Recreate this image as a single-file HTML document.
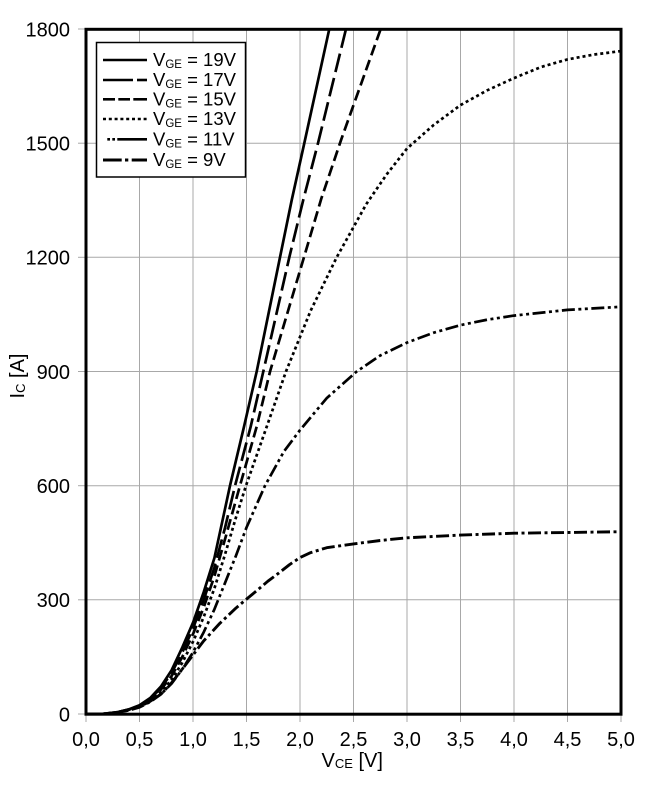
<!DOCTYPE html>
<html>
<head>
<meta charset="utf-8">
<style>
  html, body { margin:0; padding:0; background:#fff; }
  svg { display:block; }
  text { font-family: "Liberation Sans", Arial, sans-serif; fill:#000; }
</style>
</head>
<body>
<svg width="669" height="788" viewBox="0 0 669 788" xmlns="http://www.w3.org/2000/svg">
  <rect x="0" y="0" width="669" height="788" fill="#fff"/>
  <defs>
    <clipPath id="pc"><rect x="86" y="29" width="535" height="685"/></clipPath>
  </defs>

  <!-- grid -->
  <g stroke="#a8a8a8" stroke-width="1" fill="none">
    <line x1="139.5" y1="29" x2="139.5" y2="714"/>
    <line x1="193" y1="29" x2="193" y2="714"/>
    <line x1="246.5" y1="29" x2="246.5" y2="714"/>
    <line x1="300" y1="29" x2="300" y2="714"/>
    <line x1="353.5" y1="29" x2="353.5" y2="714"/>
    <line x1="407" y1="29" x2="407" y2="714"/>
    <line x1="460.5" y1="29" x2="460.5" y2="714"/>
    <line x1="514" y1="29" x2="514" y2="714"/>
    <line x1="567.5" y1="29" x2="567.5" y2="714"/>
    <line x1="86" y1="599.8" x2="621" y2="599.8"/>
    <line x1="86" y1="485.7" x2="621" y2="485.7"/>
    <line x1="86" y1="371.5" x2="621" y2="371.5"/>
    <line x1="86" y1="257.3" x2="621" y2="257.3"/>
    <line x1="86" y1="143.2" x2="621" y2="143.2"/>
    <!-- ticks -->
    <line x1="78" y1="714" x2="86" y2="714"/>
    <line x1="78" y1="599.8" x2="86" y2="599.8"/>
    <line x1="78" y1="485.7" x2="86" y2="485.7"/>
    <line x1="78" y1="371.5" x2="86" y2="371.5"/>
    <line x1="78" y1="257.3" x2="86" y2="257.3"/>
    <line x1="78" y1="143.2" x2="86" y2="143.2"/>
    <line x1="78" y1="29" x2="86" y2="29"/>
    <line x1="86" y1="714" x2="86" y2="722"/>
    <line x1="139.5" y1="714" x2="139.5" y2="722"/>
    <line x1="193" y1="714" x2="193" y2="722"/>
    <line x1="246.5" y1="714" x2="246.5" y2="722"/>
    <line x1="300" y1="714" x2="300" y2="722"/>
    <line x1="353.5" y1="714" x2="353.5" y2="722"/>
    <line x1="407" y1="714" x2="407" y2="722"/>
    <line x1="460.5" y1="714" x2="460.5" y2="722"/>
    <line x1="514" y1="714" x2="514" y2="722"/>
    <line x1="567.5" y1="714" x2="567.5" y2="722"/>
    <line x1="621" y1="714" x2="621" y2="722"/>
  </g>

  <!-- curves -->
  <g clip-path="url(#pc)" fill="none" stroke="#000" stroke-width="2.7" stroke-linejoin="round">
    <!-- 19V solid -->
    <polyline points="86,714 102.05,714 118.1,712.1 128.8,709.4 139.5,705.2 150.2,698 160.9,686.6 171.6,670.2 182.3,647.4 193,622.7 203.7,592.2 214.4,558 225.1,508.5 230,485.7 244,426.7 256.7,371.5 280,257.3 291.7,200.2 304.3,143.2 329.3,29"/>
    <!-- 17V long dash -->
    <polyline stroke-dasharray="19,6" points="86,714 102.05,714 118.1,712.1 128.8,709.4 139.5,705.6 150.2,698.8 160.9,688.1 171.6,672.9 182.3,652.4 193,628.4 203.7,599.8 214.4,567.5 225.1,527.5 235.05,485.7 250.67,426.7 263.3,371.5 289.3,257.3 303.2,200.2 318,143.2 346,29"/>
    <!-- 15V dash -->
    <polyline stroke-dasharray="11,5" points="86,714 102.05,714 118.1,712.1 128.8,709.4 139.5,706 150.2,699.5 160.9,689.6 171.6,676 182.3,656.9 193,634.1 203.7,607.4 214.4,576.2 225.1,538.9 239.97,485.7 256.67,426.7 270.04,371.5 303.96,257.3 321.4,198.3 341.3,139.3 380.7,29"/>
    <!-- 13V dotted -->
    <polyline stroke-dasharray="3,3" points="86,714 102.05,714 118.1,712.5 128.8,709.8 139.5,706.4 150.2,700.7 160.9,691.9 171.6,679.8 182.3,662.6 193,641.7 203.7,617 214.4,588.4 225.1,554.2 235.8,518 245.97,485.7 266.72,426.7 285.98,371.5 310.7,310.6 336.7,257.3 366.3,204.1 386.67,174.4 407,148.5 433.75,124.9 460.5,105.1 487.25,90.3 514,78.1 540.75,67.1 567.5,59.4 594.25,54.5 621,51.1"/>
    <!-- 11V dash-dot-dot -->
    <polyline stroke-dasharray="13,3.5,3,3.5,3,3.5" points="86,714 102.05,714 118.1,712.5 128.8,710.2 139.5,706.8 150.2,701.4 160.9,694.2 171.6,683.6 182.3,669.1 193,652.4 203.7,632.2 214.4,609.3 225.1,582.7 235.8,556.1 246.5,527.5 265,485.7 283.95,451.4 300,430.1 326.75,398.1 356.7,371.5 380.25,355.5 407,342.6 433.75,332.7 460.5,325.1 487.25,319.7 514,315.6 567.5,309.9 621,306.8"/>
    <!-- 9V dash-dot -->
    <polyline stroke-width="2.9" stroke-dasharray="13,3.5,3,3.5" points="86,714 102.05,714 118.1,712.5 128.8,710.2 139.5,707.2 150.2,701.8 160.9,694.2 171.6,682.8 182.3,669.1 193,655 203.7,640.9 219.75,623.4 235.8,608.2 246.5,599.1 257.2,590.3 267.9,581.2 278.6,573.2 289.3,564.8 300,557.6 310.7,552.6 326.75,547.7 353.5,543.9 380.25,540.5 407,537.8 460.5,535.1 514,533.2 567.5,532.5 621,531.7"/>
  </g>

  <!-- border -->
  <rect x="86" y="29.3" width="535" height="684.9" fill="none" stroke="#000" stroke-width="3"/>

  <!-- legend -->
  <rect x="96.5" y="42.5" width="149" height="134.5" fill="#fff" stroke="#000" stroke-width="1.5"/>
  <g stroke="#000" stroke-width="2.6" fill="none">
    <line x1="103" y1="60" x2="147" y2="60"/>
    <line x1="103" y1="80" x2="133" y2="80"/>
    <line x1="137" y1="80" x2="147" y2="80"/>
    <line x1="103" y1="99.3" x2="115" y2="99.3"/>
    <line x1="118.3" y1="99.3" x2="130" y2="99.3"/>
    <line x1="133.3" y1="99.3" x2="147" y2="99.3"/>
    <line x1="103" y1="119" x2="147" y2="119" stroke-dasharray="3,2.8"/>
    <line x1="107.3" y1="139.3" x2="110" y2="139.3"/>
    <line x1="112.3" y1="139.3" x2="115" y2="139.3"/>
    <line x1="117.3" y1="139.3" x2="147" y2="139.3"/>
    <line x1="103" y1="160" x2="121.7" y2="160" stroke-width="3"/>
    <line x1="125" y1="160" x2="128.3" y2="160" stroke-width="3"/>
    <line x1="131.7" y1="160" x2="147" y2="160" stroke-width="3"/>
  </g>
  <g font-size="18.5">
    <text x="153" y="66">V<tspan font-size="11.5" dy="2">GE</tspan><tspan dy="-2"> = 19V</tspan></text>
    <text x="153" y="86">V<tspan font-size="11.5" dy="2">GE</tspan><tspan dy="-2"> = 17V</tspan></text>
    <text x="153" y="105.3">V<tspan font-size="11.5" dy="2">GE</tspan><tspan dy="-2"> = 15V</tspan></text>
    <text x="153" y="125">V<tspan font-size="11.5" dy="2">GE</tspan><tspan dy="-2"> = 13V</tspan></text>
    <text x="153" y="145.3">V<tspan font-size="11.5" dy="2">GE</tspan><tspan dy="-2"> = 11V</tspan></text>
    <text x="153" y="166">V<tspan font-size="11.5" dy="2">GE</tspan><tspan dy="-2"> = 9V</tspan></text>
  </g>

  <!-- y tick labels -->
  <g font-size="20" text-anchor="end">
    <text x="70" y="721.3">0</text>
    <text x="70" y="607.1">300</text>
    <text x="70" y="493">600</text>
    <text x="70" y="378.8">900</text>
    <text x="70" y="264.6">1200</text>
    <text x="70" y="150.5">1500</text>
    <text x="70" y="36.3">1800</text>
  </g>
  <!-- x tick labels -->
  <g font-size="20" text-anchor="middle">
    <text x="86" y="746">0,0</text>
    <text x="139.5" y="746">0,5</text>
    <text x="193" y="746">1,0</text>
    <text x="246.5" y="746">1,5</text>
    <text x="300" y="746">2,0</text>
    <text x="353.5" y="746">2,5</text>
    <text x="407" y="746">3,0</text>
    <text x="460.5" y="746">3,5</text>
    <text x="514" y="746">4,0</text>
    <text x="567.5" y="746">4,5</text>
    <text x="621" y="746">5,0</text>
  </g>

  <!-- axis titles -->
  <text x="321.5" y="767" font-size="20">V<tspan font-size="13" dy="1">CE</tspan><tspan dy="-1"> [V]</tspan></text>
  <text transform="translate(24,376) rotate(-90)" font-size="20" text-anchor="middle">I<tspan font-size="13" dy="1">C</tspan><tspan dy="-1"> [A]</tspan></text>
</svg>
</body>
</html>
